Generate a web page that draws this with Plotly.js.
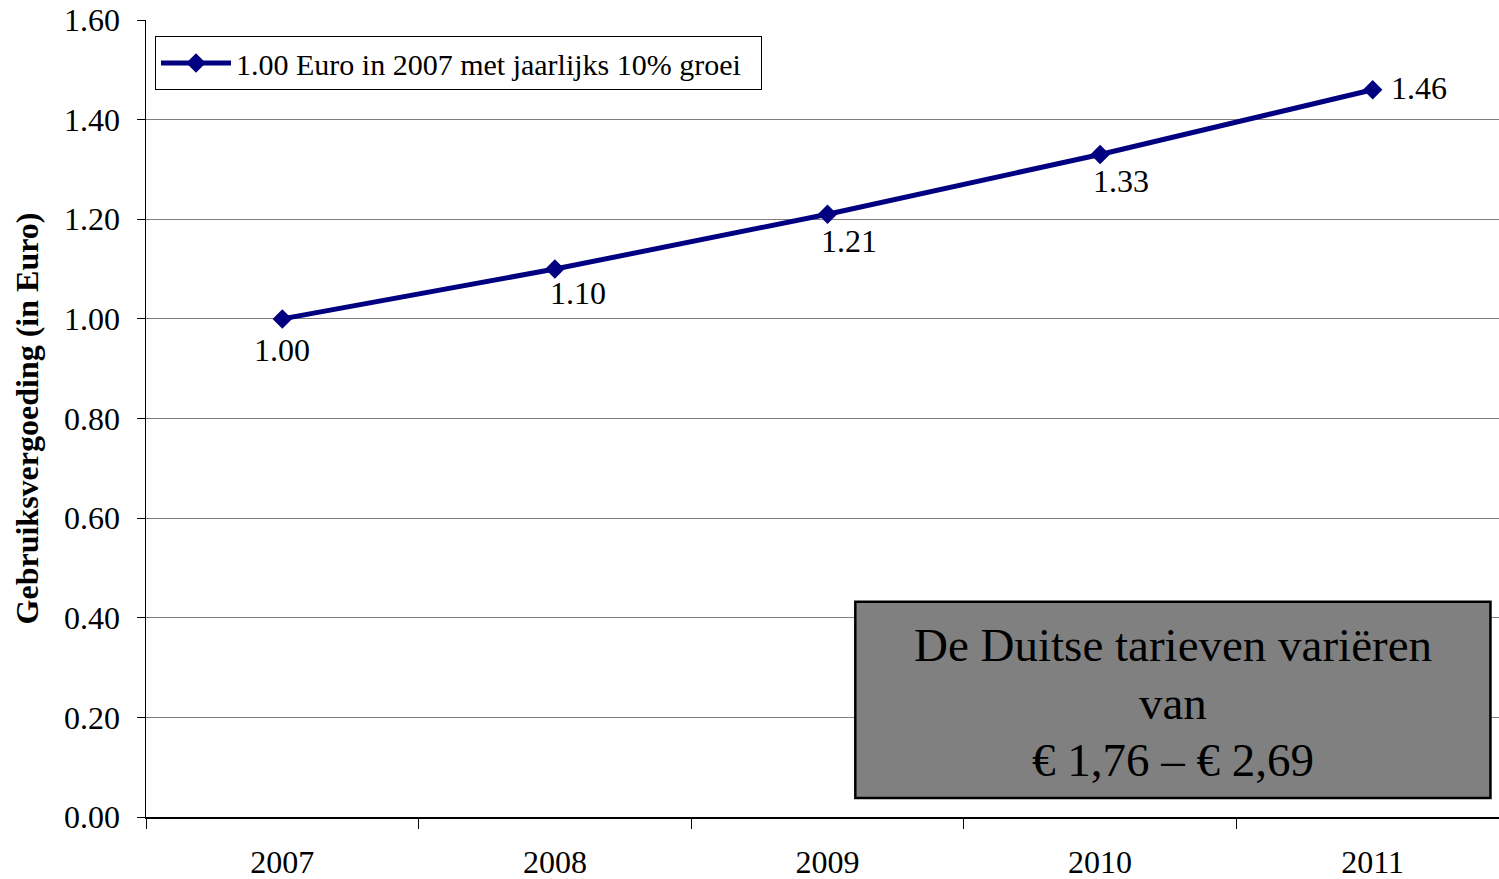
<!DOCTYPE html>
<html>
<head>
<meta charset="utf-8">
<script src="https://cdn.plot.ly/plotly-3.0.1.min.js"></script>
<style>
  html,body{margin:0;padding:0;background:#fff;overflow:hidden;}
  #chart{width:1510px;height:879px;}
</style>
</head>
<body>
<div id="chart"></div>
<script>
// data
const years = ['2007','2008','2009','2010','2011'];
const values = [1.00, 1.10, 1.21, 1.33, 1.46];
const seriesName = '1.00 Euro in 2007 met jaarlijks 10% groei';
const yTicks = [0,0.2,0.4,0.6,0.8,1.0,1.2,1.4,1.6];
const boxLines = ['De Duitse tarieven variëren','van','€ 1,76 – € 2,69'];

// label offsets (px) like the excel data labels
const labelShift = [[0,-31],[23,-24],[21,-27],[21,-27],[46,2]];
// text box, in axis units
const box = {x0:2.102, x1:4.432, y0:0.038, y1:0.432};
const boxLineY = [0.345, 0.229, 0.114];

const font = '"Liberation Serif", "Times New Roman", serif';

const annos = values.map((v,i)=>({
  x: i, y: v, xref:'x', yref:'y',
  text: v.toFixed(2), showarrow:false,
  xshift: labelShift[i][0], yshift: labelShift[i][1],
  font:{family:font, size:32, color:'#000'}
}));

boxLines.forEach((t,i)=>annos.push({
  x: (box.x0+box.x1)/2, y: boxLineY[i], xref:'x', yref:'y',
  text: t, showarrow:false,
  font:{family:font, size:47, color:'#000'}
}));

Plotly.newPlot('chart', [{
  type:'scatter', mode:'lines+markers',
  x: years, y: values, name: seriesName + '  ',
  line:{color:'#000080', width:5},
  marker:{symbol:'diamond', size:15, color:'#000080'}
}], {
  width:1510, height:879,
  margin:{l:146, r:1, t:20, b:62},
  paper_bgcolor:'#fff', plot_bgcolor:'#fff',
  font:{family:font, color:'#000'},
  showlegend:true,
  legend:{
    x:0.0066, y:0.98, xanchor:'left', yanchor:'top',
    bgcolor:'#fff', bordercolor:'#000', borderwidth:1,
    itemwidth:70,
    font:{family:font, size:30, color:'#000'}
  },
  xaxis:{
    type:'category', range:[-0.5,4.5],
    tickson:'boundaries', ticks:'outside', ticklen:10, tickcolor:'#000', tickwidth:1,
    showline:true, linecolor:'#000', linewidth:1.5,
    showgrid:false, zeroline:false,
    ticklabelstandoff:16,
    tickfont:{family:font, size:32, color:'#000'}
  },
  yaxis:{
    range:[0,1.6], tickvals:yTicks, tickformat:'.2f',
    ticks:'outside', ticklen:8, tickcolor:'#000', tickwidth:1,
    showline:true, linecolor:'#000', linewidth:1.5,
    showgrid:true, gridcolor:'#808080', gridwidth:1, zeroline:false,
    ticklabelstandoff:10,
    tickfont:{family:font, size:32, color:'#000'},
    title:{text:'<b>Gebruiksvergoeding (in Euro)</b>', standoff:16,
      font:{family:font, size:32, color:'#000'}}
  },
  shapes:[{
    type:'rect', xref:'x', yref:'y',
    x0:box.x0, x1:box.x1, y0:box.y0, y1:box.y1,
    fillcolor:'#808080', line:{color:'#000', width:2.5}, layer:'above'
  }],
  annotations: annos
}, {displayModeBar:false, staticPlot:true});
</script>
</body>
</html>
